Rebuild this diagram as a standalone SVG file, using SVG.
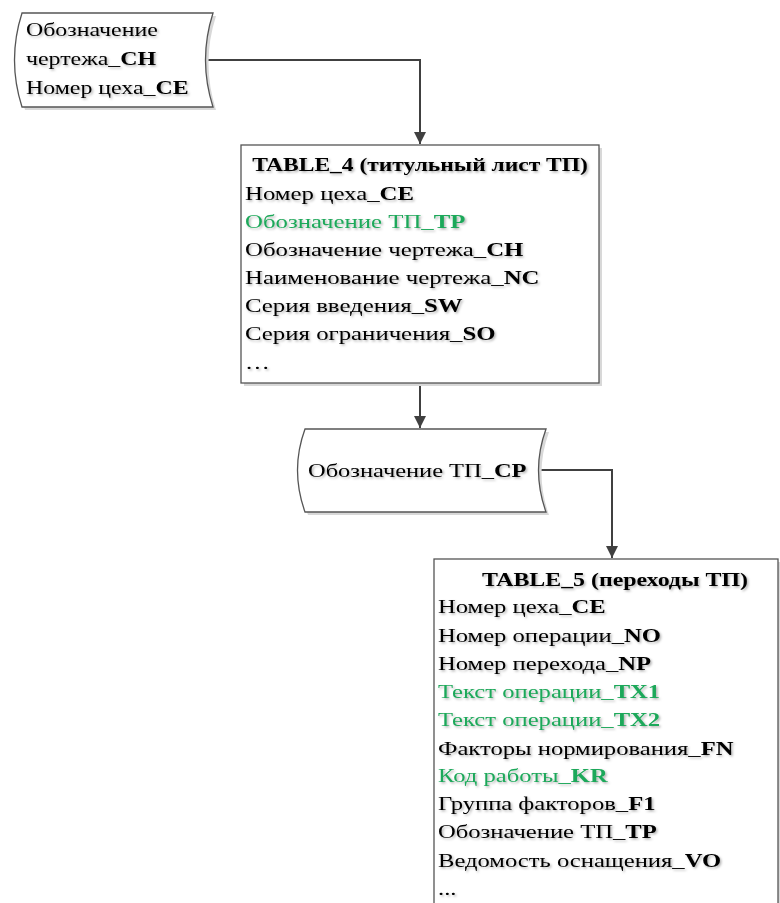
<svg xmlns="http://www.w3.org/2000/svg" width="780" height="903" viewBox="0 0 780 903">
<style>
.t{font-family:"Liberation Serif","Times New Roman",serif;font-size:18.8px;fill:#000}
.b{font-weight:bold}
.g{fill:#1ea85a}
.shape{fill:#fff;stroke:#555;stroke-width:1.3}
.shadow{fill:#d8d8d8;stroke:none}
.conn{fill:none;stroke:#404040;stroke-width:2}
</style>
<defs>
<marker id="arr" viewBox="0 0 12 12" refX="12" refY="6" markerWidth="12" markerHeight="12" markerUnits="userSpaceOnUse" orient="auto">
<path d="M0,0 L12,6 L0,12 Z" fill="#404040"/>
</marker>
<filter id="ts" x="-5%" y="-20%" width="110%" height="150%">
<feDropShadow dx="1.5" dy="1.5" stdDeviation="0.8" flood-color="#000" flood-opacity="0.3"/>
</filter>
</defs>
<g id="connectors">
<path class="conn" d="M201,60 H420 V144" marker-end="url(#arr)"/>
<path class="conn" d="M420,383 V428" marker-end="url(#arr)"/>
<path class="conn" d="M535,470 H612 V558" marker-end="url(#arr)"/>
</g>
<g id="node1">
<path class="shadow" d="M25,16 H216 Q201,63 216,110 H25 Q10,63 25,16 Z"/>
<path class="shape" d="M22,13 H213 Q198,60 213,107 H22 Q7,60 22,13 Z"/>
<g filter="url(#ts)">
<g transform="translate(26,0) scale(1.27,1)">
<text class="t" x="0" y="36">Обозначение</text>
<text class="t" x="0" y="65">чертежа_<tspan class="b">CH</tspan></text>
<text class="t" x="0" y="94">Номер цеха_<tspan class="b">CE</tspan></text>
</g>
</g>
</g>
<g id="table4">
<rect class="shadow" x="244" y="148" width="358" height="238"/>
<rect class="shape" x="241" y="145" width="358" height="238"/>
<g filter="url(#ts)">
<g transform="translate(420,0) scale(1.25,1)">
<text class="t b" x="0" y="171" text-anchor="middle">TABLE_4 (титульный лист ТП)</text>
</g>
<g transform="translate(245,0) scale(1.32,1)">
<text class="t" x="0" y="200">Номер цеха_<tspan class="b">CE</tspan></text>
<text class="t g" x="0" y="228">Обозначение ТП_<tspan class="b">TP</tspan></text>
<text class="t" x="0" y="256">Обозначение чертежа_<tspan class="b">CH</tspan></text>
<text class="t" x="0" y="284">Наименование чертежа_<tspan class="b">NC</tspan></text>
<text class="t" x="0" y="312">Серия введения_<tspan class="b">SW</tspan></text>
<text class="t" x="0" y="340">Серия ограничения_<tspan class="b">SO</tspan></text>
<text class="t" x="0" y="369">…</text>
</g>
</g>
</g>
<g id="node3">
<path class="shadow" d="M308,432 H549 Q534,473 549,515 H308 Q293,473 308,432 Z"/>
<path class="shape" d="M305,429 H546 Q531,470 546,512 H305 Q290,470 305,429 Z"/>
<g filter="url(#ts)">
<g transform="translate(308,0) scale(1.3,1)">
<text class="t" x="0" y="477">Обозначение ТП_<tspan class="b">CP</tspan></text>
</g>
</g>
</g>
<g id="table5">
<rect class="shadow" x="437" y="562" width="344" height="350"/>
<rect class="shape" x="434" y="559" width="344" height="350"/>
<g filter="url(#ts)">
<g transform="translate(615,0) scale(1.27,1)">
<text class="t b" x="0" y="586" text-anchor="middle">TABLE_5 (переходы ТП)</text>
</g>
<g transform="translate(438,0) scale(1.31,1)">
<text class="t" x="0" y="613">Номер цеха_<tspan class="b">CE</tspan></text>
<text class="t" x="0" y="642">Номер операции_<tspan class="b">NO</tspan></text>
<text class="t" x="0" y="670">Номер перехода_<tspan class="b">NP</tspan></text>
<text class="t g" x="0" y="698">Текст операции_<tspan class="b">TX1</tspan></text>
<text class="t g" x="0" y="726">Текст операции_<tspan class="b">TX2</tspan></text>
<text class="t" x="0" y="755">Факторы нормирования_<tspan class="b">FN</tspan></text>
<text class="t g" x="0" y="782">Код работы_<tspan class="b">KR</tspan></text>
<text class="t" x="0" y="810">Группа факторов_<tspan class="b">F1</tspan></text>
<text class="t" x="0" y="838">Обозначение ТП_<tspan class="b">TP</tspan></text>
<text class="t" x="0" y="867">Ведомость оснащения_<tspan class="b">VO</tspan></text>
<text class="t" x="0" y="895">...</text>
</g>
</g>
</g>
</svg>
